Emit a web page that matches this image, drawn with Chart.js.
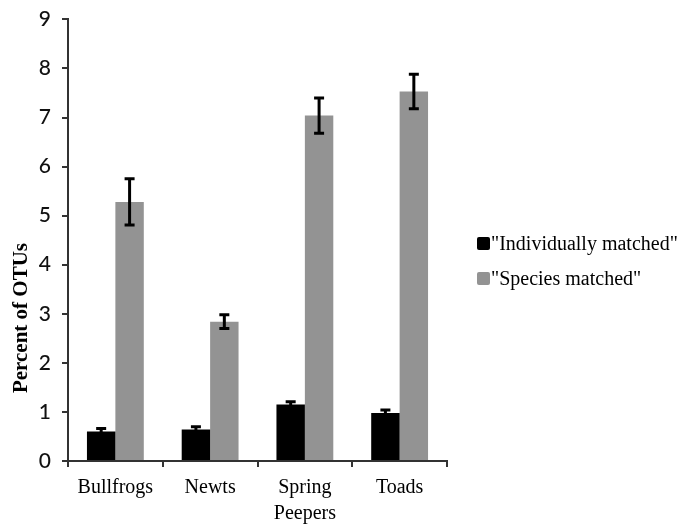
<!DOCTYPE html>
<html>
<head>
<meta charset="utf-8">
<script src="https://cdn.jsdelivr.net/npm/chart.js@4.4.1/dist/chart.umd.min.js"></script>
<style>
html,body{margin:0;padding:0;background:#fff;}
#wrap{width:680px;height:529px;position:relative;}
</style>
</head>
<body>
<div id="wrap"><canvas id="c" width="680" height="529"></canvas></div>
<script>
const categories = [["Bullfrogs"], ["Newts"], ["Spring", "Peepers"], ["Toads"]];
const seriesNames = ["\"Individually matched\"", "\"Species matched\""];
const individuallyMatched = [0.60, 0.64, 1.15, 0.98];
const individuallyErr = [0.06, 0.06, 0.06, 0.06];
const speciesMatched = [5.28, 2.84, 7.04, 7.53];
const speciesErr = [0.47, 0.14, 0.36, 0.35];
const yTicks = [0, 1, 2, 3, 4, 5, 6, 7, 8, 9];
const yTitle = "Percent of OTUs";

const errorBarPlugin = {
  id: 'errorBars',
  afterDatasetsDraw(chart) {
    const ctx = chart.ctx;
    const y = chart.scales.y;
    ctx.save();
    ctx.strokeStyle = '#000';
    chart.data.datasets.forEach((ds, di) => {
      const meta = chart.getDatasetMeta(di);
      meta.data.forEach((bar, i) => {
        const v = ds.data[i], e = ds.errors[i];
        const yt = y.getPixelForValue(v + e), yb = y.getPixelForValue(v - e);
        const x = bar.x;
        ctx.lineWidth = 3;
        ctx.beginPath(); ctx.moveTo(x, yt); ctx.lineTo(x, yb); ctx.stroke();
        ctx.beginPath();
        ctx.moveTo(x - 5, yt); ctx.lineTo(x + 5, yt);
        ctx.moveTo(x - 5, yb); ctx.lineTo(x + 5, yb);
        ctx.stroke();
      });
    });
    ctx.restore();
  }
};

const extrasPlugin = {
  id: 'extras',
  afterDraw(chart) {
    const ctx = chart.ctx;
    ctx.save();
    ctx.fillStyle = '#000';
    ctx.font = 'bold 21px "Liberation Serif", "Times New Roman", serif';
    ctx.textAlign = 'center';
    ctx.textBaseline = 'middle';
    ctx.translate(22, 318);
    ctx.rotate(-Math.PI / 2);
    ctx.fillText(yTitle, 0, 0);
    ctx.restore();
    ctx.save();
    ctx.font = '20px "Liberation Serif", "Times New Roman", serif';
    ctx.textBaseline = 'middle';
    ctx.textAlign = 'left';
    const rows = [244, 279];
    chart.data.datasets.forEach((ds, di) => {
      const cy = rows[di];
      ctx.fillStyle = ds.backgroundColor;
      ctx.beginPath();
      if (ctx.roundRect) ctx.roundRect(477, cy - 7, 13, 13, 2); else ctx.rect(477, cy - 7, 13, 13);
      ctx.fill();
      ctx.fillStyle = '#000';
      ctx.fillText(ds.label, 491, cy + 1);
    });
    ctx.restore();
  }
};

new Chart(document.getElementById('c'), {
  type: 'bar',
  data: {
    labels: categories,
    datasets: [
      { label: seriesNames[0], data: individuallyMatched, errors: individuallyErr, backgroundColor: '#000000', categoryPercentage: 0.6, barPercentage: 1.0 },
      { label: seriesNames[1], data: speciesMatched, errors: speciesErr, backgroundColor: '#939393', categoryPercentage: 0.6, barPercentage: 1.0 }
    ]
  },
  options: {
    responsive: false,
    animation: false,
    devicePixelRatio: 1,
    layout: { padding: { top: 8, right: 233, bottom: 0, left: 0 } },
    plugins: { legend: { display: false }, tooltip: { enabled: false } },
    scales: {
      x: {
        offset: true,
        grid: { offset: true, drawOnChartArea: false, drawTicks: true, tickLength: 6, color: '#333', lineWidth: 2 },
        border: { color: '#333', width: 2 },
        ticks: { color: '#000', padding: 8, font: { family: '"Liberation Serif", "Times New Roman", serif', size: 20, lineHeight: 1.3 } },
        afterFit(s) { s.height = 68; }
      },
      y: {
        min: 0, max: 9,
        afterBuildTicks(s) { s.ticks = yTicks.map(v => ({ value: v })); },
        grid: { drawOnChartArea: false, drawTicks: true, tickLength: 6, color: '#333', lineWidth: 2 },
        border: { color: '#333', width: 2 },
        ticks: { color: '#111', padding: 11, font: { family: 'Lato, "Open Sans", sans-serif', size: 21, weight: '500', lineHeight: 0.8 } },
        afterFit(s) { s.width = 68; }
      }
    }
  },
  plugins: [errorBarPlugin, extrasPlugin]
});
</script>
</body>
</html>
